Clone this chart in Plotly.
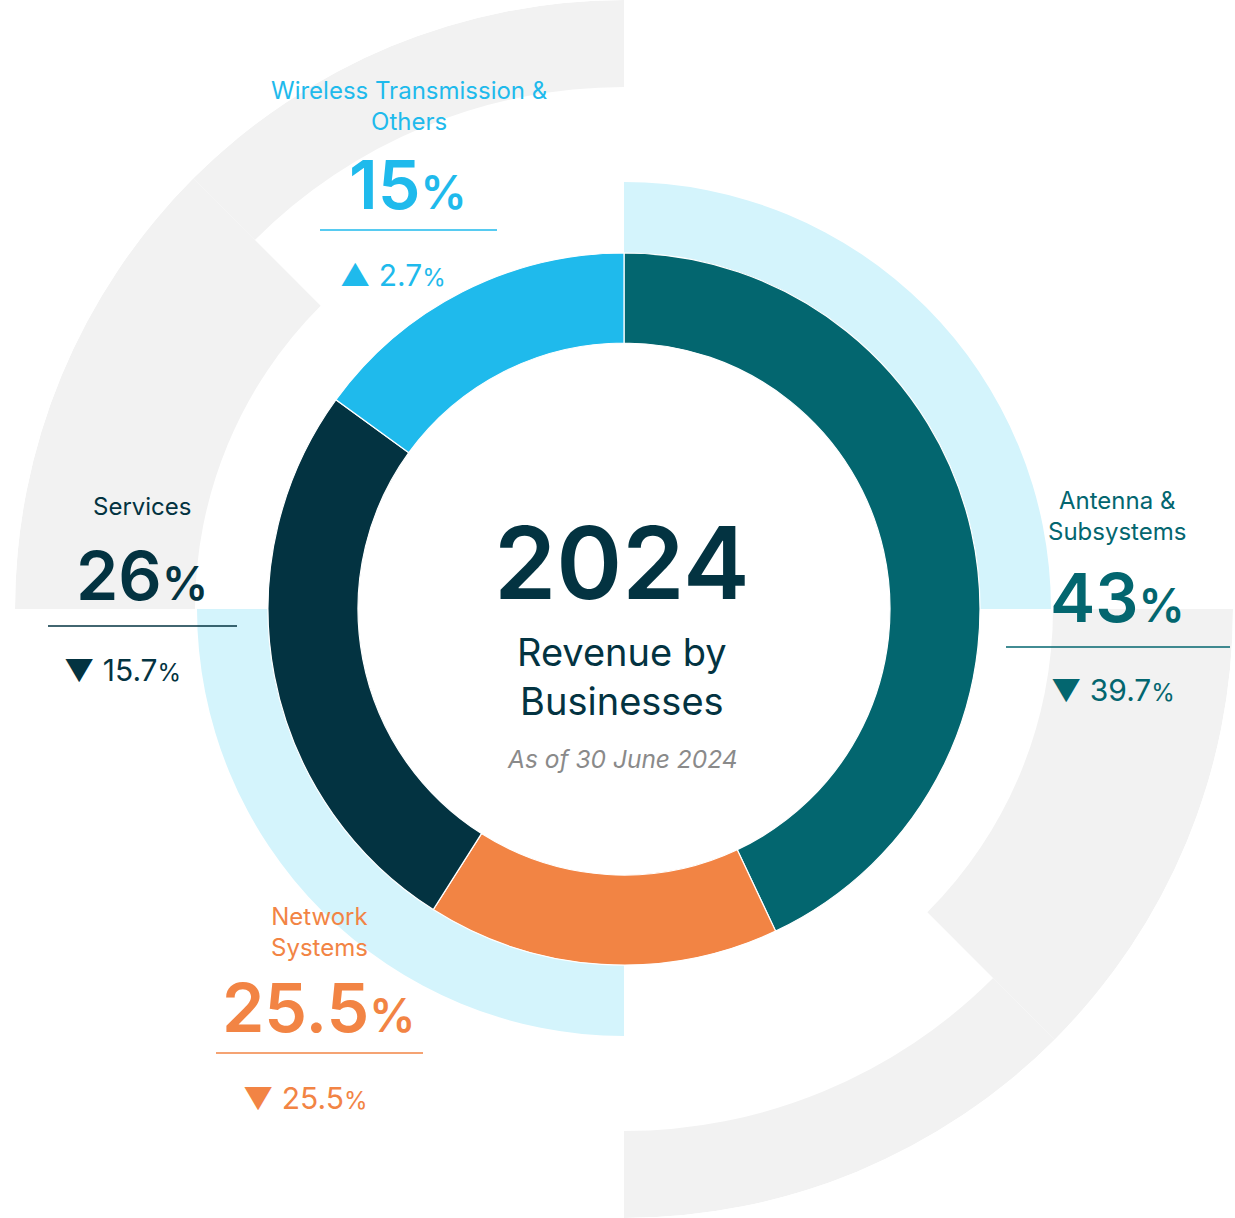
import plotly.graph_objects as go

# Data
segments = ["Antenna & Subsystems", "Network Systems", "Services", "Wireless Transmission & Others"]
label_lines = ["Antenna &<br>Subsystems", "Network<br>Systems", "Services", "Wireless Transmission &<br>Others"]
arc_shares = [43, 16, 26, 15]          # size of each arc as drawn on the ring
share_text = ["43", "25.5", "26", "15"]  # printed share (%)
change_text = ["39.7", "25.5", "15.7", "2.7"]
change_dir = ["down", "down", "down", "up"]
colors = ["#03666F", "#F28444", "#033341", "#1FBAEC"]

W, H = 1235, 1218
CX, CY = 624, 609
R_MAX = 609
FONT = "Inter"
NAVY = "#033341"

# ring geometry (px) for decoration: (start deg, end deg, inner r, outer r, colour)
decor = [
    (0, 90, 356, 427, "#D4F4FC"),
    (180, 270, 356, 427, "#D4F4FC"),
    (90, 135, 429, 609, "#F2F2F2"),
    (135, 180, 522, 609, "#F2F2F2"),
    (270, 315, 429, 609, "#F2F2F2"),
    (315, 360, 522, 609, "#F2F2F2"),
]

# label placement in px: name centre, pct centre, rule (x0, x1, y), change centre
placement = {
    "Antenna & Subsystems": dict(name=(1117, 516), pct=(1117, 597), rule=(1006, 1230, 647), chg=(1113, 690)),
    "Network Systems": dict(name=(319, 932), pct=(319, 1007), rule=(216, 423, 1053), chg=(305, 1098)),
    "Services": dict(name=(142, 506), pct=(142, 575), rule=(48, 237, 626), chg=(122, 670)),
    "Wireless Transmission & Others": dict(name=(409, 106), pct=(408, 184), rule=(320, 497, 230), chg=(393, 275)),
}


def px(x, y):
    return x / W, 1 - y / H


fig = go.Figure()

for a0, a1, r0, r1, col in decor:
    fig.add_trace(go.Barpolar(
        theta=[(a0 + a1) / 2], width=[a1 - a0], base=[r0], r=[r1 - r0],
        marker=dict(color=col, line=dict(width=0)), hoverinfo="skip", showlegend=False,
    ))

# donut
starts = [sum(arc_shares[:i]) for i in range(len(arc_shares))]
total = sum(arc_shares)
thetas = [(s + v / 2) / total * 360 for s, v in zip(starts, arc_shares)]
widths = [v / total * 360 for v in arc_shares]
fig.add_trace(go.Barpolar(
    theta=thetas, width=widths, base=[266] * 4, r=[90] * 4,
    marker=dict(color=colors, line=dict(color="white", width=1.2)),
    text=segments, hoverinfo="text", showlegend=False,
))

annotations = []
shapes = []


def add_text(x, y, text, size, color, weight=400, style="normal"):
    ax, ay = px(x, y)
    annotations.append(dict(
        x=ax, y=ay, xref="paper", yref="paper", text=text, showarrow=False,
        xanchor="center", yanchor="middle", align="center",
        font=dict(family=FONT, size=size, color=color, weight=weight, style=style),
    ))


for seg, name, pct, chg, d, col in zip(segments, label_lines, share_text, change_text, change_dir, colors):
    p = placement[seg]
    add_text(*p["name"], name, 24, col)
    add_text(*p["pct"], f"{pct}<span style='font-size:46px'>%</span>", 68, col, weight=600)
    x0, x1, ry = p["rule"]
    (sx0, sy), (sx1, _) = px(x0, ry), px(x1, ry)
    shapes.append(dict(type="line", xref="paper", yref="paper", x0=sx0, x1=sx1, y0=sy, y1=sy,
                       line=dict(color=col, width=1.5)))
    arrow = "▲" if d == "up" else "▼"
    add_text(*p["chg"], f"{arrow} {chg}<span style='font-size:24px'>%</span>", 30, col)

add_text(622, 562, "2024", 100, NAVY, weight=600)
add_text(622, 676, "Revenue by<br>Businesses", 38, NAVY)
add_text(622, 759, "As of 30 June 2024", 24.5, "#8A8A8A", style="italic")

fig.update_layout(
    width=W, height=H,
    margin=dict(l=0, r=0, t=0, b=0),
    paper_bgcolor="white",
    plot_bgcolor="white",
    polar=dict(
        domain=dict(x=[(CX - R_MAX) / W, (CX + R_MAX) / W], y=[0, 1]),
        bgcolor="white",
        barmode="overlay",
        bargap=0,
        radialaxis=dict(visible=False, range=[0, R_MAX]),
        angularaxis=dict(visible=False, direction="clockwise", rotation=90),
    ),
    annotations=annotations,
    shapes=shapes,
)

fig.write_html("out.html", config={"displayModeBar": False},
               post_script="document.body.style.margin='0';")
